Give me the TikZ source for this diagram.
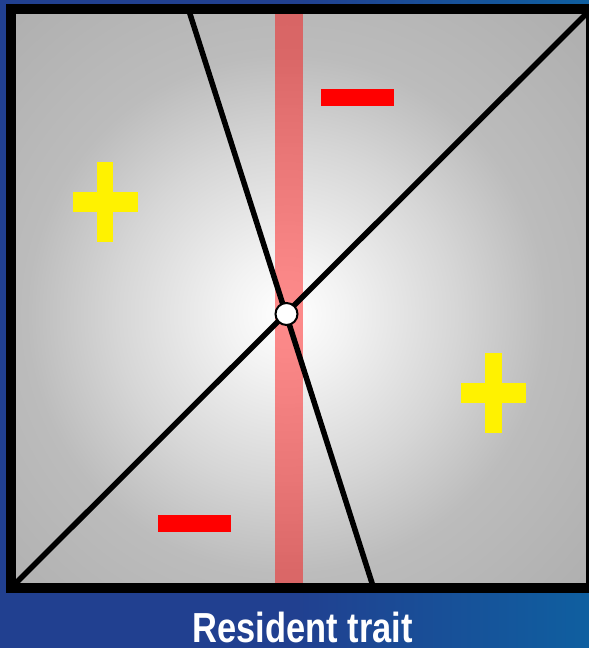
\documentclass[tikz,border=0pt]{standalone}
\usepackage{fontspec}
\setmainfont{Liberation Sans}
\usepackage{graphicx}
\definecolor{blueA}{RGB}{33,64,144}
\definecolor{blueB}{RGB}{15,95,160}
\definecolor{gA}{RGB}{242,242,242}
\definecolor{gB}{RGB}{214,214,214}
\definecolor{gC}{RGB}{188,188,188}
\definecolor{gD}{RGB}{176,176,176}
\pgfdeclareradialshading{graysh}{\pgfpoint{0bp}{0bp}}{color(0bp)=(white); color(3.33bp)=(gA); color(9.44bp)=(gB); color(14.44bp)=(gC); color(22.2bp)=(gD); color(50bp)=(gD)}
\pgfdeclarehorizontalshading{bluesh}{100bp}{color(0bp)=(blueA); color(50bp)=(blueA); color(75bp)=(blueB); color(100bp)=(blueB)}
\begin{document}
\begin{tikzpicture}[x=1pt,y=-1pt,
  barline/.style={line width=5.5pt, line cap=butt},
  plussign/.style={fill=yellow},
  minussign/.style={fill=red},
  band/.style={fill=red, opacity=0.45},
  framebox/.style={draw=black, line width=10pt},
  eqpoint/.style={circle, draw=black, fill=white, line width=2pt, minimum size=22pt, inner sep=0pt},
  caption/.style={text=white, font=\bfseries\fontsize{42}{42}\selectfont, anchor=base, inner sep=0pt}]
\useasboundingbox (0,0) rectangle (589,648);
\clip (0,0) rectangle (589,648);
\shade[shading=bluesh] (0,0) rectangle (589,648);
\begin{scope}
  \clip (16,14) rectangle (586,583);
  \shade[shading=graysh] (286.5,314) circle (450pt);
\end{scope}
\fill[band] (275,14) rectangle (303,583);
\coordinate (ll) at (12,587);
\coordinate (ur) at (590,10);
\coordinate (tp) at (188.4,9);
\coordinate (bt) at (373.6,588);
\draw[barline] (ll) -- (ur);
\draw[barline] (tp) -- (bt);
\node[eqpoint] (eq) at (286.5,314) {};
\fill[plussign] (97.3,161.7) rectangle (113.3,241.7);
\fill[plussign] (72.7,191.7) rectangle (138,211.7);
\fill[plussign] (485,352.7) rectangle (501.7,432.7);
\fill[plussign] (460.7,382.7) rectangle (526,403.3);
\fill[minussign] (321,89) rectangle (394,105.7);
\fill[minussign] (158,515) rectangle (231,532);
\draw[framebox] (11,9) rectangle (591,588);
\node[caption] (lbl) at (302.7,642) {\scalebox{0.82}[1]{Resident trait}};
\end{tikzpicture}
\end{document}
